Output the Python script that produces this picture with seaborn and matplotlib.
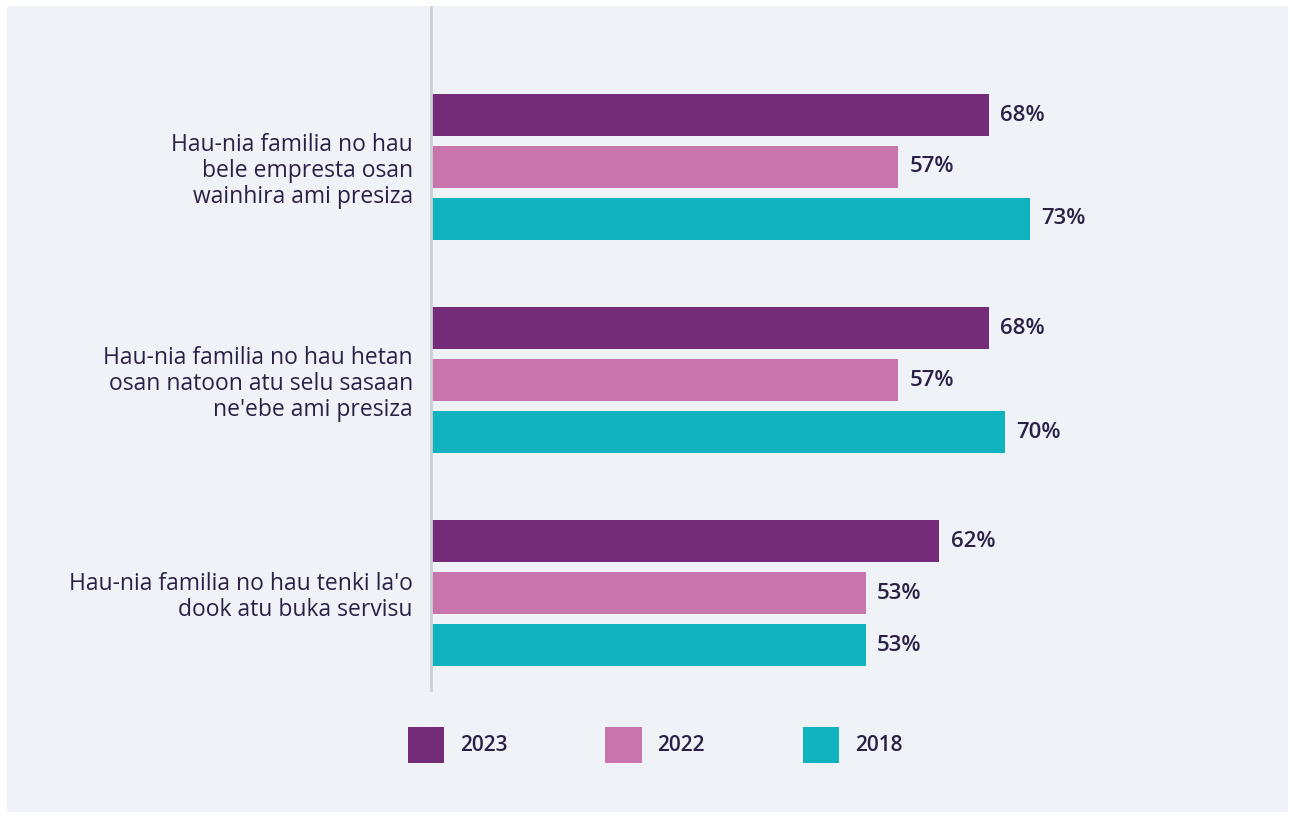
import matplotlib
matplotlib.use("Agg")
import matplotlib.pyplot as plt
import matplotlib.patches as mpatches
import seaborn as sns
import pandas as pd

# Data
categories = [
    "Hau-nia familia no hau\nbele empresta osan\nwainhira ami presiza",
    "Hau-nia familia no hau hetan\nosan natoon atu selu sasaan\nne'ebe ami presiza",
    "Hau-nia familia no hau tenki la'o\ndook atu buka servisu",
]
years = ["2023", "2022", "2018"]
values_2023 = [68, 68, 62]
values_2022 = [57, 57, 53]
values_2018 = [73, 70, 53]

colors = ["#742C78", "#C775AC", "#10B2BF"]
bg = "#EFF3F8"
text_col = "#2B2146"

df = pd.DataFrame({
    "category": categories * 3,
    "year": [y for y in years for _ in categories],
    "value": values_2023 + values_2022 + values_2018,
})

sns.set_style("white")
plt.rcParams["font.family"] = ["Open Sans", "DejaVu Sans"]

fig = plt.figure(figsize=(12.9, 8.18), dpi=100, facecolor="white")
W, H = 1290, 818
# background panel behind everything
panel = mpatches.Rectangle((7 / W, 6 / H), (1288 - 7) / W, (812 - 6) / H,
                           transform=fig.transFigure, facecolor=bg,
                           edgecolor="none", zorder=-10)
fig.patches.append(panel)

ax = fig.add_axes([431 / W, (818 - 690) / H, (1288 - 431) / W, (690 - 7) / H])
ax.set_facecolor(bg)

sns.barplot(data=df, y="category", x="value", hue="year", orient="h",
            palette=colors, width=0.732, gap=0.19, ax=ax, legend=False,
            saturation=1, edgecolor="none")

for c in ax.containers:
    ax.bar_label(c, fmt="%d%%", padding=8, fontsize=16, color=text_col,
                 fontweight="semibold")

ax.set_xlim(0, 104.5)
ax.set_ylim(2.455, -0.751)
ax.set_xlabel("")
ax.set_ylabel("")
ax.set_xticks([])
ax.tick_params(axis="y", length=0, pad=13, labelsize=16.5, labelcolor=text_col)
for lbl in ax.get_yticklabels():
    lbl.set_horizontalalignment("right")
    lbl.set_multialignment("right")
    lbl.set_linespacing(1.12)
for s in ["top", "right", "bottom"]:
    ax.spines[s].set_visible(False)
ax.spines["left"].set_color("#CDCFD3")
ax.spines["left"].set_linewidth(2)

handles = [mpatches.Patch(facecolor=c, edgecolor="none", label=y) for c, y in zip(colors, years)]
leg = fig.legend(handles=handles, loc="center", bbox_to_anchor=(655 / W, (818 - 745) / H),
                 ncol=3, frameon=False, fontsize=15, handlelength=1.75, handleheight=2.3,
                 handletextpad=0.75, columnspacing=4.7, labelcolor=text_col)
for t in leg.get_texts():
    t.set_fontweight("semibold")

fig.savefig("out.png", dpi=100, facecolor="white")
